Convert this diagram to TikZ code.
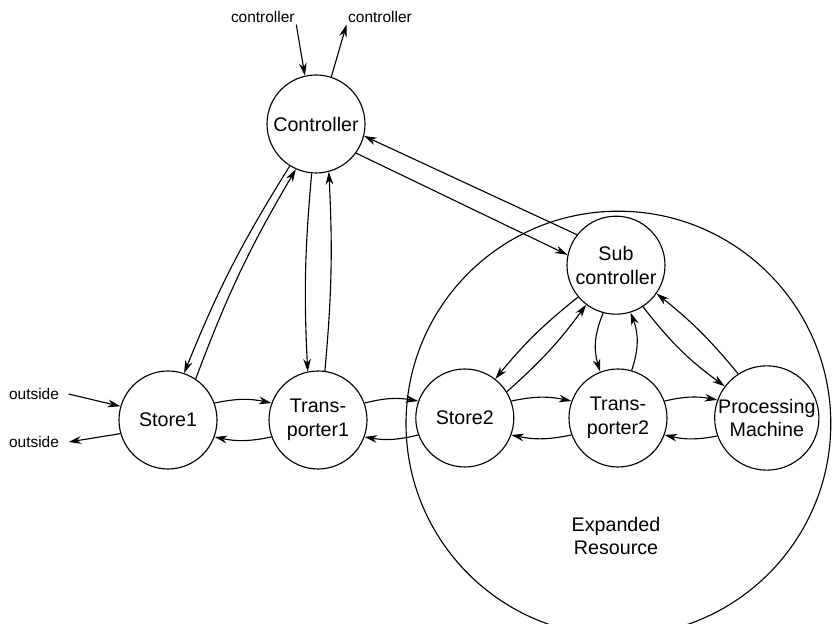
\documentclass[tikz,border=0pt]{standalone}
\usepackage{fontspec}
\setmainfont{Liberation Sans}
\usetikzlibrary{arrows.meta}

\begin{document}
\begin{tikzpicture}

% les styles
\tikzstyle{etat}=[circle,draw,thick,minimum size=2.45cm,inner sep=0pt,align=center,font=\fontsize{14}{17}\selectfont]
\tikzstyle{zone}=[circle,draw,thick,minimum size=10.62cm,inner sep=0pt]
\tikzstyle{etiquette}=[inner sep=1pt,font=\fontsize{11}{13}\selectfont]
\tikzstyle{fleche}=[-{Stealth[length=9pt,width=5.5pt]},thick]

% le cadre
\useasboundingbox (0,0) rectangle (20.8cm,15.6cm);
\clip (0,0) rectangle (20.8cm,15.6cm);

% la ressource
\node [zone] (ressource) at (15.46cm,5.01cm) {};
\node [align=center,font=\fontsize{14}{17}\selectfont] (nomres) at (15.4cm,2.2cm) {Expanded\\Resource};

% les etats
\node [etat] (ctrl) at (7.9cm,12.5cm) {Controller};
\node [etat] (s1) at (4.2cm,5.1cm) {Store1};
\node [etat] (t1) at (7.95cm,5.1cm) {Trans-\\porter1};
\node [etat] (s2) at (11.62cm,5.15cm) {Store2};
\node [etat] (t2) at (15.45cm,5.15cm) {Trans-\\porter2};
\node [etat] (pm) at (19.17cm,5.15cm) {Processing\\Machine};
\node [etat] (sub) at (15.4cm,8.97cm) {Sub\\controller};

% les etiquettes
\node [etiquette] (cin) at (6.57cm,15.17cm) {controller};
\node [etiquette] (cout) at (9.5cm,15.17cm) {controller};
\node [etiquette] (oin) at (0.85cm,5.75cm) {outside};
\node [etiquette] (oout) at (0.85cm,4.55cm) {outside};

% les entrees et sorties
\draw[fleche] (cin.south east) to (ctrl.103);
\draw[fleche] (ctrl.72) to (cout.south west);
\draw[fleche] ([xshift=2mm]oin.east) to (s1.164);
\draw[fleche] (s1.196) to ([xshift=2mm]oout.east);

% les arcs avec le controleur
\draw[fleche] (ctrl.238) to[bend right=5] (s1.71);
\draw[fleche] (s1.56) to[bend left=5] (ctrl.246);
\draw[fleche] (ctrl.265) to[bend right=4] (t1.102);
\draw[fleche] (t1.82) to[bend right=4] (ctrl.285);
\draw[fleche] (ctrl.324) to (sub.168);
\draw[fleche] (sub.142) to (ctrl.346);

% les arcs avec le sous-controleur
\draw[fleche] (sub.220) to[bend right=6] (s2.52);
\draw[fleche] (s2.32) to[bend right=6] (sub.233);
\draw[fleche] (sub.255) to[bend right=20] (t2.111);
\draw[fleche] (t2.74) to[bend right=20] (sub.287);
\draw[fleche] (sub.303) to[bend right=8] (pm.143);
\draw[fleche] (pm.123) to[bend right=6] (sub.325);

% les arcs horizontaux
\draw[fleche] (s1.20) to[bend left=12] (t1.160);
\draw[fleche] (t1.-160) to[bend left=12] (s1.-20);
\draw[fleche] (t1.20) to[bend left=12] (s2.160);
\draw[fleche] (s2.-160) to[bend left=12] (t1.-20);
\draw[fleche] (s2.20) to[bend left=12] (t2.160);
\draw[fleche] (t2.-160) to[bend left=12] (s2.-20);
\draw[fleche] (t2.20) to[bend left=12] (pm.160);
\draw[fleche] (pm.-160) to[bend left=12] (t2.-20);

\end{tikzpicture}
\end{document}
